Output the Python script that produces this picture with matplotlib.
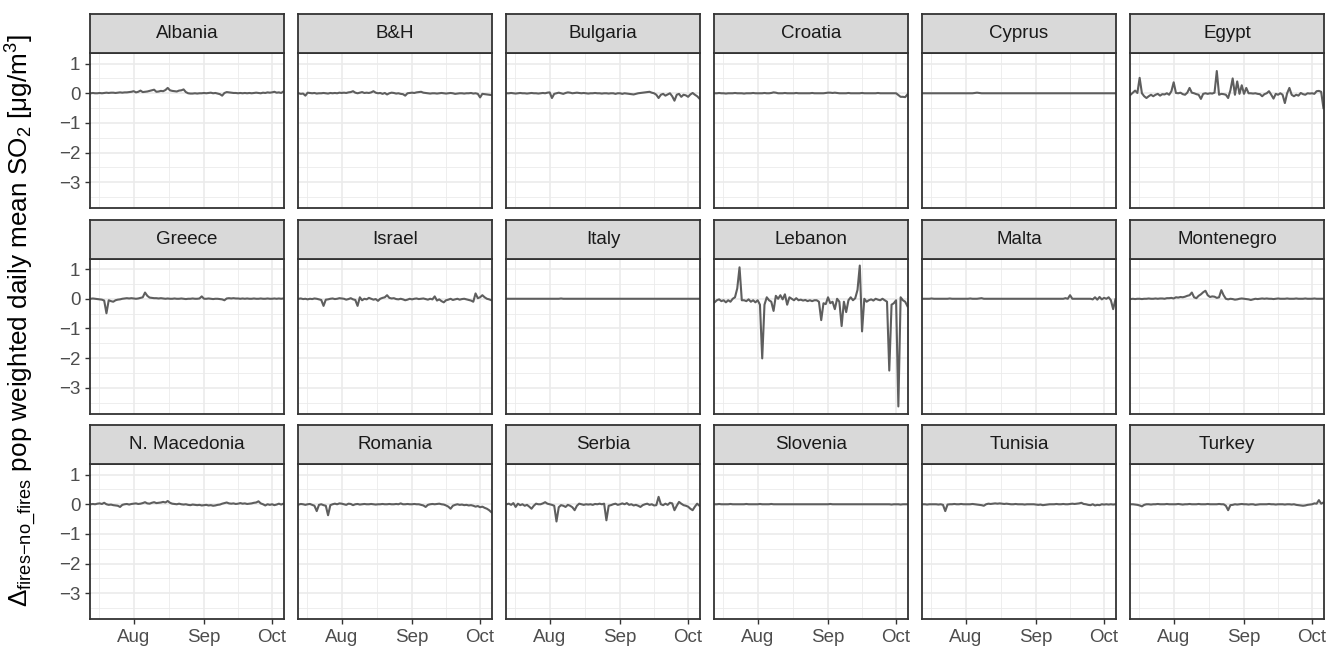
import numpy as np
import matplotlib.pyplot as plt
import matplotlib.dates as mdates
from matplotlib.ticker import FixedLocator, MultipleLocator

plt.rcParams['font.family'] = ['Liberation Sans', 'DejaVu Sans']
plt.rcParams['mathtext.fontset'] = 'custom'
plt.rcParams['mathtext.rm'] = 'Liberation Sans'
plt.rcParams['mathtext.it'] = 'Liberation Sans:italic'
plt.rcParams['mathtext.bf'] = 'Liberation Sans:bold'

# daily values, 13 Jul - 6 Oct 2021
dates = np.arange('2021-07-13', '2021-10-07', dtype='datetime64[D]')

countries = ['Albania', 'B&H', 'Bulgaria', 'Croatia', 'Cyprus', 'Egypt',
             'Greece', 'Israel', 'Italy', 'Lebanon', 'Malta', 'Montenegro',
             'N. Macedonia', 'Romania', 'Serbia', 'Slovenia', 'Tunisia', 'Turkey']

albania = [0.0, 0.01, 0.0, 0.0, 0.01, 0.0, 0.01, 0.02, 0.01, 0.02,
           0.02, 0.01, 0.02, 0.03, 0.02, 0.03, 0.03, 0.04, 0.05, 0.07,
           0.03, 0.05, 0.09, 0.04, 0.05, 0.06, 0.08, 0.1, 0.12, 0.05,
           0.06, 0.08, 0.07, 0.11, 0.18, 0.1, 0.08, 0.07, 0.06, 0.09,
           0.1, 0.13, 0.04, 0.0, -0.01, -0.01, 0.0, -0.01, 0.0, 0.0,
           0.01, 0.0, 0.01, 0.02, 0.0, 0.01, -0.01, -0.03, -0.08, 0.01,
           0.04, 0.03, 0.02, 0.01, 0.01, 0.0, 0.01, 0.0, 0.01, 0.0,
           0.01, 0.0, 0.01, 0.02, 0.01, 0.0, 0.02, 0.01, 0.03, 0.02,
           0.03, 0.05, 0.02, 0.03, 0.01, 0.06]
bih = [0.0, -0.02, -0.01, -0.08, 0.02, 0.01, 0.0, 0.01, -0.01, 0.0,
       0.0, 0.01, 0.0, -0.01, 0.01, 0.0, 0.01, 0.0, 0.02, 0.01,
       0.02, 0.01, 0.03, 0.04, 0.07, 0.02, 0.0, 0.02, 0.04, 0.01,
       0.02, 0.01, 0.03, 0.07, 0.02, 0.0, 0.01, -0.02, 0.01, -0.04,
       0.0, 0.02, 0.01, -0.01, 0.0, -0.02, -0.03, -0.08, 0.0, 0.01,
       0.02, 0.01, 0.03, 0.04, 0.05, 0.02, 0.01, 0.0, -0.01, 0.0,
       0.0, -0.01, 0.0, 0.01, 0.0, -0.01, 0.0, 0.01, 0.0, -0.02,
       -0.01, 0.0, 0.0, -0.01, 0.0, 0.0, 0.01, -0.01, 0.0, -0.02,
       -0.14, -0.02, -0.03, -0.04, -0.05, -0.06]
bulgaria = [0.0, 0.0, 0.01, 0.0, -0.01, 0.0, 0.01, 0.0, 0.0, -0.01,
            0.0, 0.01, 0.0, 0.0, -0.01, 0.0, 0.01, 0.0, 0.02, 0.03,
            -0.16, -0.02, 0.0, 0.02, 0.0, -0.02, 0.01, 0.03, 0.02, 0.0,
            0.01, 0.02, 0.01, 0.0, 0.01, 0.0, -0.01, 0.0, 0.0, 0.01,
            0.0, 0.0, -0.01, 0.0, 0.0, -0.01, 0.0, 0.0, -0.02, 0.0,
            0.0, -0.02, 0.0, -0.01, -0.02, -0.03, -0.04, -0.02, 0.0, 0.01,
            0.02, 0.03, 0.04, 0.05, 0.02, 0.0, -0.05, -0.16, -0.05, -0.02,
            -0.08, -0.04, 0.0, -0.1, -0.25, -0.05, -0.02, -0.12, -0.05, -0.07,
            -0.12, -0.04, 0.01, -0.05, -0.1, -0.18]
croatia = [0.0, 0.0, 0.01, 0.0, 0.0, -0.01, 0.0, 0.0, 0.0, 0.01,
           0.0, 0.0, 0.0, -0.01, 0.0, 0.0, 0.0, 0.01, 0.0, 0.0,
           0.0, 0.0, 0.01, 0.0, 0.0, 0.01, 0.03, 0.02, 0.0, 0.0,
           0.0, 0.01, 0.0, 0.0, 0.0, 0.0, 0.01, 0.0, 0.0, 0.0,
           0.0, 0.0, 0.0, 0.01, 0.0, 0.0, 0.0, 0.0, 0.0, 0.01,
           0.02, 0.02, 0.01, 0.02, 0.01, 0.0, 0.0, 0.0, 0.0, 0.01,
           0.0, 0.0, 0.0, 0.0, 0.0, 0.01, 0.0, 0.0, 0.0, 0.0,
           0.0, 0.0, 0.01, 0.0, 0.0, 0.0, 0.0, 0.0, 0.0, 0.0,
           0.0, -0.06, -0.12, -0.12, -0.13, -0.04]
cyprus = [0.0, 0.0, 0.0, 0.0, 0.0, 0.0, 0.0, 0.0, 0.0, 0.0,
          0.0, 0.0, 0.0, 0.0, 0.0, 0.0, 0.0, 0.0, 0.0, 0.0,
          0.0, 0.0, 0.0, 0.01, 0.02, 0.01, 0.0, 0.0, 0.0, 0.0,
          0.0, 0.0, 0.0, 0.0, 0.0, 0.0, 0.0, 0.0, 0.0, 0.0,
          0.0, 0.0, 0.0, 0.0, 0.0, 0.0, 0.0, 0.0, 0.0, 0.0,
          0.0, 0.0, 0.0, 0.0, 0.0, 0.0, 0.0, 0.0, 0.0, 0.0,
          0.0, 0.0, 0.0, 0.0, 0.0, 0.0, 0.0, 0.0, 0.0, 0.0,
          0.0, 0.0, 0.0, 0.0, 0.0, 0.0, 0.0, 0.0, 0.0, 0.0,
          0.0, 0.0, 0.0, 0.0, 0.0, 0.0]
egypt = [-0.05, 0.02, 0.09, 0.01, 0.52, 0.0, -0.1, -0.16, -0.1, -0.05,
         -0.1, -0.05, -0.02, -0.08, -0.03, -0.04, 0.0, -0.05, 0.07, 0.37,
         0.01, 0.0, 0.02, -0.03, -0.05, 0.02, 0.18, 0.02, 0.0, -0.03,
         -0.05, -0.19, -0.02, 0.0, -0.02, 0.0, -0.01, 0.02, 0.75, -0.05,
         -0.02, -0.03, -0.05, -0.16, 0.1, 0.5, -0.05, 0.4, -0.02, 0.27,
         -0.02, 0.18, 0.0, 0.0, -0.01, 0.0, -0.02, -0.03, -0.1, -0.03,
         0.0, 0.07, -0.05, -0.18, -0.02, -0.05, 0.0, -0.05, -0.33, 0.0,
         0.18, -0.05, -0.1, -0.05, -0.08, 0.01, -0.03, -0.05, 0.0, -0.01,
         0.0, -0.02, 0.07, 0.08, 0.05, -0.5]
greece = [0.0, 0.01, 0.0, -0.01, -0.02, -0.03, -0.06, -0.49, -0.05, -0.08,
          -0.1, -0.05, -0.03, -0.02, 0.0, 0.01, 0.02, 0.01, 0.02, 0.01,
          0.0, 0.01, 0.03, 0.05, 0.21, 0.1, 0.04, 0.03, 0.02, 0.02,
          0.01, 0.02, 0.01, 0.0, 0.01, 0.0, 0.0, 0.01, 0.0, 0.0,
          0.01, 0.0, -0.01, 0.0, 0.0, 0.01, 0.0, 0.0, 0.01, 0.08,
          0.0, 0.0, 0.01, 0.0, -0.01, 0.0, 0.0, -0.01, -0.02, -0.05,
          0.01, 0.02, 0.01, 0.02, 0.01, 0.01, 0.0, 0.01, 0.0, 0.01,
          0.0, 0.0, 0.01, 0.0, 0.0, 0.01, 0.0, 0.0, 0.01, 0.0,
          0.0, 0.01, 0.0, 0.01, 0.0, 0.01]
israel = [0.0, 0.01, -0.01, 0.0, -0.02, 0.0, -0.01, 0.01, 0.0, -0.02,
          -0.04, -0.24, -0.03, -0.02, 0.0, 0.01, -0.01, 0.0, 0.02, 0.01,
          0.0, -0.03, -0.01, 0.02, -0.02, -0.04, -0.24, 0.05, -0.05, 0.0,
          -0.02, 0.03, 0.0, -0.03, -0.01, -0.07, 0.0, 0.03, 0.05, 0.12,
          0.03, 0.01, 0.02, -0.01, -0.02, 0.0, -0.02, -0.05, -0.03, 0.0,
          -0.02, 0.0, 0.01, -0.01, 0.0, 0.01, -0.01, -0.03, 0.0, -0.02,
          0.08, -0.06, -0.02, -0.08, -0.12, -0.05, -0.03, 0.0, -0.04, -0.02,
          0.0, -0.03, -0.01, 0.0, -0.02, -0.04, -0.06, -0.1, 0.18, 0.02,
          0.05, 0.12, 0.05, 0.0, -0.02, -0.05]
italy = [0.0, 0.0, 0.0, 0.0, 0.0, 0.0, 0.0, 0.0, 0.0, 0.0,
         0.0, 0.0, 0.0, 0.0, 0.0, 0.0, 0.0, 0.0, 0.0, 0.0,
         0.0, 0.0, 0.0, 0.0, 0.01, 0.0, 0.0, 0.0, 0.0, 0.0,
         0.0, 0.0, 0.0, 0.0, 0.0, 0.0, 0.0, 0.0, 0.0, 0.0,
         0.0, 0.0, 0.0, 0.0, 0.0, 0.0, 0.0, 0.0, 0.0, 0.0,
         0.0, 0.0, 0.0, 0.0, 0.0, 0.0, 0.0, 0.0, 0.0, 0.0,
         0.0, 0.0, 0.0, 0.0, 0.0, 0.0, 0.0, 0.0, 0.0, 0.0,
         0.0, 0.0, 0.0, 0.0, 0.0, 0.0, 0.0, 0.0, 0.0, 0.0,
         0.0, 0.0, 0.0, 0.0, 0.0, 0.0]
lebanon = [-0.12, -0.05, -0.02, -0.08, -0.05, -0.12, -0.05, -0.1, 0.0, 0.05,
           0.35, 1.06, -0.05, -0.05, -0.08, -0.02, -0.1, -0.05, -0.12, -0.05,
           -0.2, -2.01, -0.2, 0.05, -0.05, -0.1, -0.41, 0.1, 0.0, 0.12,
           -0.02, 0.15, -0.2, 0.05, 0.0, -0.05, 0.02, -0.05, -0.03, -0.06,
           -0.04, -0.08, -0.05, -0.08, -0.05, -0.05, -0.1, -0.72, -0.15, -0.18,
           0.05, -0.15, -0.1, -0.35, 0.0, -0.1, -0.92, -0.1, -0.45, -0.05,
           0.05, -0.05, 0.02, 0.3, 1.12, -1.1, 0.0, -0.1, -0.05, -0.02,
           -0.06, 0.0, -0.03, -0.05, 0.0, -0.05, -0.1, -2.42, -0.2, -0.15,
           -0.05, -3.63, 0.05, -0.05, -0.1, -0.25]
malta = [0.0, 0.0, 0.0, 0.0, 0.01, 0.0, 0.0, 0.0, 0.0, 0.0,
         0.0, 0.0, 0.01, 0.0, 0.0, 0.0, 0.0, 0.0, 0.0, 0.0,
         0.0, 0.01, 0.0, 0.0, 0.0, 0.01, 0.02, 0.0, 0.0, 0.0,
         0.0, 0.0, 0.0, 0.0, 0.0, 0.0, 0.0, 0.0, 0.0, 0.0,
         0.0, 0.0, 0.0, 0.0, 0.0, 0.0, 0.0, 0.0, 0.0, 0.0,
         0.0, 0.0, 0.0, 0.0, 0.0, 0.0, 0.0, 0.0, 0.0, 0.0,
         0.0, 0.0, 0.0, 0.02, 0.0, 0.12, 0.0, 0.0, 0.0, 0.0,
         0.0, 0.0, 0.0, 0.0, 0.0, -0.02, 0.05, -0.03, 0.06, -0.02,
         0.03, 0.0, 0.05, -0.05, -0.35, -0.02]
montenegro = [-0.01, 0.0, -0.01, 0.0, 0.0, -0.01, 0.0, 0.0, 0.01, 0.0,
              0.0, 0.01, 0.0, 0.01, 0.01, 0.0, 0.02, 0.02, 0.03, 0.01,
              0.05, 0.04, 0.06, 0.05, 0.07, 0.1, 0.12, 0.21, 0.05, 0.02,
              0.1, 0.15, 0.22, 0.27, 0.12, 0.06, 0.08, 0.07, 0.03, 0.05,
              0.29, 0.12, 0.0, -0.02, 0.0, -0.01, -0.03, -0.02, 0.0, 0.01,
              0.0, -0.01, -0.02, -0.04, -0.02, 0.0, -0.01, 0.0, 0.01, 0.0,
              0.01, 0.0, 0.0, -0.01, 0.0, 0.01, 0.0, 0.0, 0.0, 0.01,
              0.0, 0.0, 0.0, 0.01, 0.0, 0.0, 0.0, 0.01, 0.0, 0.0,
              0.0, 0.01, 0.0, 0.0, 0.0, 0.0]
n_macedonia = [0.0, 0.01, 0.0, 0.02, 0.03, 0.01, 0.05, 0.0, -0.02, -0.01,
               -0.03, -0.04, -0.05, -0.09, -0.02, 0.0, 0.01, -0.01, 0.01, 0.02,
               0.03, 0.01, 0.02, 0.04, 0.07, 0.03, 0.02, 0.05, 0.07, 0.04,
               0.05, 0.06, 0.08, 0.06, 0.11, 0.05, 0.02, 0.01, 0.0, 0.02,
               0.0, -0.01, 0.0, -0.02, -0.03, -0.01, -0.02, -0.03, -0.02, -0.04,
               -0.03, -0.02, -0.04, -0.03, -0.05, -0.04, -0.02, -0.01, 0.02, 0.04,
               0.06, 0.03, 0.02, 0.03, 0.01, 0.02, 0.04, 0.02, 0.03, 0.01,
               0.02, 0.03, 0.05, 0.06, 0.1, 0.03, 0.0, -0.04, 0.0, -0.02,
               0.0, -0.03, -0.01, 0.02, -0.01, 0.02]
romania = [-0.01, 0.01, 0.0, -0.02, 0.0, 0.01, -0.02, -0.05, -0.23, -0.02,
           0.0, -0.03, -0.05, -0.37, -0.03, 0.0, 0.02, 0.0, 0.03, 0.02,
           0.0, -0.02, 0.02, 0.01, -0.03, 0.0, 0.01, -0.01, 0.0, 0.01,
           0.0, 0.0, 0.01, 0.0, -0.01, 0.0, 0.0, 0.01, 0.0, 0.0,
           0.01, 0.0, 0.0, 0.01, 0.0, 0.03, 0.0, 0.0, 0.01, 0.0,
           0.0, 0.01, 0.0, 0.0, -0.02, -0.04, -0.09, -0.02, 0.0, 0.01,
           0.0, 0.01, 0.02, 0.0, -0.01, -0.04, -0.08, -0.15, -0.05, -0.02,
           0.0, -0.02, -0.01, -0.03, -0.02, -0.04, -0.03, -0.05, -0.08, -0.06,
           -0.1, -0.08, -0.12, -0.15, -0.2, -0.27]
serbia = [0.0, 0.02, -0.02, 0.04, -0.09, 0.02, -0.03, 0.0, -0.05, -0.02,
          -0.08, -0.15, -0.05, 0.02, 0.0, 0.0, 0.03, 0.07, 0.02, 0.0,
          -0.02, -0.05, -0.58, -0.1, -0.03, -0.05, -0.09, -0.02, -0.05, -0.1,
          -0.2, -0.05, 0.02, 0.0, -0.02, 0.0, -0.01, 0.0, -0.02, 0.01,
          0.0, 0.02, 0.0, 0.02, -0.54, -0.05, -0.03, 0.0, 0.02, -0.02,
          0.0, 0.03, 0.0, 0.04, -0.02, 0.0, -0.04, -0.02, -0.05, -0.09,
          -0.03, 0.0, 0.02, -0.02, 0.0, -0.04, -0.03, 0.25, 0.0, -0.03,
          0.02, -0.02, 0.05, 0.03, -0.2, -0.05, 0.08, 0.02, -0.03, -0.05,
          -0.08, -0.15, -0.2, -0.08, 0.02, -0.05]
slovenia = [0.0, 0.0, 0.01, 0.0, 0.0, 0.0, 0.0, 0.01, 0.0, 0.0,
            0.0, 0.0, 0.0, 0.0, 0.01, 0.0, 0.0, 0.0, 0.0, 0.0,
            0.01, 0.0, 0.0, 0.0, 0.0, 0.01, 0.0, 0.0, 0.0, 0.0,
            0.0, 0.0, 0.0, 0.0, 0.0, 0.0, 0.0, 0.0, 0.0, 0.0,
            0.0, 0.0, 0.0, 0.0, 0.0, 0.0, 0.0, 0.0, 0.0, 0.0,
            0.0, 0.01, 0.0, 0.0, 0.0, 0.0, 0.0, 0.0, 0.0, 0.0,
            0.0, 0.0, 0.0, 0.0, 0.0, 0.0, 0.0, 0.0, 0.0, 0.0,
            0.0, 0.0, 0.0, 0.0, 0.0, 0.0, 0.0, 0.0, -0.01, 0.0,
            0.0, 0.0, -0.01, 0.0, 0.0, 0.0]
tunisia = [0.0, 0.0, -0.01, 0.0, 0.0, 0.0, 0.0, -0.01, 0.0, -0.02,
           -0.23, -0.01, 0.0, 0.0, 0.01, 0.0, 0.0, 0.01, 0.0, 0.0,
           0.0, 0.0, 0.01, 0.0, -0.01, -0.02, -0.03, -0.05, 0.0, 0.02,
           0.01, 0.02, 0.03, 0.02, 0.03, 0.02, 0.01, 0.02, 0.01, 0.0,
           0.0, 0.01, 0.0, 0.0, 0.0, -0.01, 0.0, 0.0, 0.0, 0.0,
           -0.01, -0.02, -0.01, -0.03, -0.02, -0.01, 0.0, 0.0, 0.0, 0.01,
           0.0, 0.0, 0.01, 0.0, 0.0, 0.01, 0.02, 0.01, 0.02, 0.03,
           0.05, 0.01, 0.0, -0.02, -0.03, 0.0, -0.04, -0.02, -0.03, 0.0,
           -0.01, 0.0, -0.01, 0.0, -0.01, 0.0]
turkey = [0.0, 0.0, -0.01, -0.02, -0.04, -0.07, -0.02, 0.0, 0.0, -0.01,
          0.0, 0.0, 0.01, 0.0, 0.0, 0.0, 0.01, 0.0, 0.0, 0.0,
          0.0, 0.01, 0.0, -0.01, 0.0, 0.0, 0.01, 0.0, 0.0, 0.0,
          0.01, 0.0, 0.0, 0.0, 0.01, 0.0, 0.0, 0.0, 0.0, 0.01,
          0.0, 0.0, -0.05, -0.2, -0.03, -0.02, 0.0, -0.01, 0.0, 0.01,
          0.0, 0.0, -0.01, 0.0, 0.0, -0.02, -0.01, 0.0, 0.0, 0.0,
          0.0, 0.01, 0.0, 0.0, -0.01, 0.0, 0.0, 0.0, -0.01, 0.0,
          0.0, -0.01, 0.0, -0.02, -0.03, -0.04, -0.05, -0.04, -0.02, -0.01,
          0.0, 0.03, 0.02, 0.14, 0.02, 0.06]

series = [albania, bih, bulgaria, croatia, cyprus, egypt,
          greece, israel, italy, lebanon, malta, montenegro,
          n_macedonia, romania, serbia, slovenia, tunisia, turkey]

ylabel = (r'Δ$_{\mathrm{fires{-}no\_fires}}$ pop weighted daily mean '
          r'SO$_2$ [μg/m$^3$]')

# layout in pixels
W, H = 1330, 650
x0, pitch, pw = 90, 208, 194
row_tops = [14, 219.5, 425]
sh, ph = 39, 155

fig = plt.figure(figsize=(W / 100, H / 100), dpi=100)

xnum = mdates.date2num(dates)
xlim = (xnum[0] - 0.25, xnum[-1] + 0.25)
allv = np.concatenate([np.array(s) for s in series])
span = allv.max() - allv.min()
ylim = (allv.min() - 0.05 * span, allv.max() + 0.05 * span)

months = np.arange('2021-07', '2021-11', dtype='datetime64[M]').astype('datetime64[D]')
mnum = mdates.date2num(months)
minor_x = (mnum[:-1] + mnum[1:]) / 2

border = '#333333'
for k, (name, vals) in enumerate(zip(countries, series)):
    r, c = divmod(k, 6)
    left = x0 + c * pitch
    top = row_tops[r]
    ax = fig.add_axes([left / W, 1 - (top + sh + ph) / H, pw / W, ph / H])
    ax.plot(xnum, vals, color='#5E5E5E', lw=1.5, solid_joinstyle='round')
    ax.set_xlim(xlim)
    ax.set_ylim(ylim)
    ax.xaxis.set_major_locator(mdates.MonthLocator())
    ax.xaxis.set_major_formatter(mdates.DateFormatter('%b'))
    ax.xaxis.set_minor_locator(FixedLocator(minor_x))
    ax.yaxis.set_major_locator(MultipleLocator(1))
    ax.yaxis.set_minor_locator(MultipleLocator(0.5))
    ax.grid(which='major', color='#EBEBEB', lw=1.2)
    ax.grid(which='minor', color='#EBEBEB', lw=0.6)
    ax.set_axisbelow(True)
    for sp in ax.spines.values():
        sp.set_color(border)
        sp.set_linewidth(1.3)
    ax.tick_params(which='minor', length=0)
    ax.tick_params(which='major', length=3.5, width=1.0, color=border,
                   labelsize=13.5, labelcolor='#4D4D4D', pad=3.5)
    ax.tick_params(axis='y', left=(c == 0), labelleft=(c == 0))
    ax.tick_params(axis='x', bottom=(r == 2), labelbottom=(r == 2))

    sax = fig.add_axes([left / W, 1 - (top + sh) / H, pw / W, sh / H])
    sax.set_facecolor('#D9D9D9')
    sax.set_xticks([])
    sax.set_yticks([])
    for sp in sax.spines.values():
        sp.set_color(border)
        sp.set_linewidth(1.3)
    sax.text(0.5, 0.5, name, ha='center', va='center', fontsize=13.5,
             color='#1A1A1A', transform=sax.transAxes)

fig.text(22 / W, 1 - 321 / H, ylabel, rotation=90, ha='center', va='center',
         fontsize=18.8, color='black')

fig.savefig('out.png', dpi=100)
